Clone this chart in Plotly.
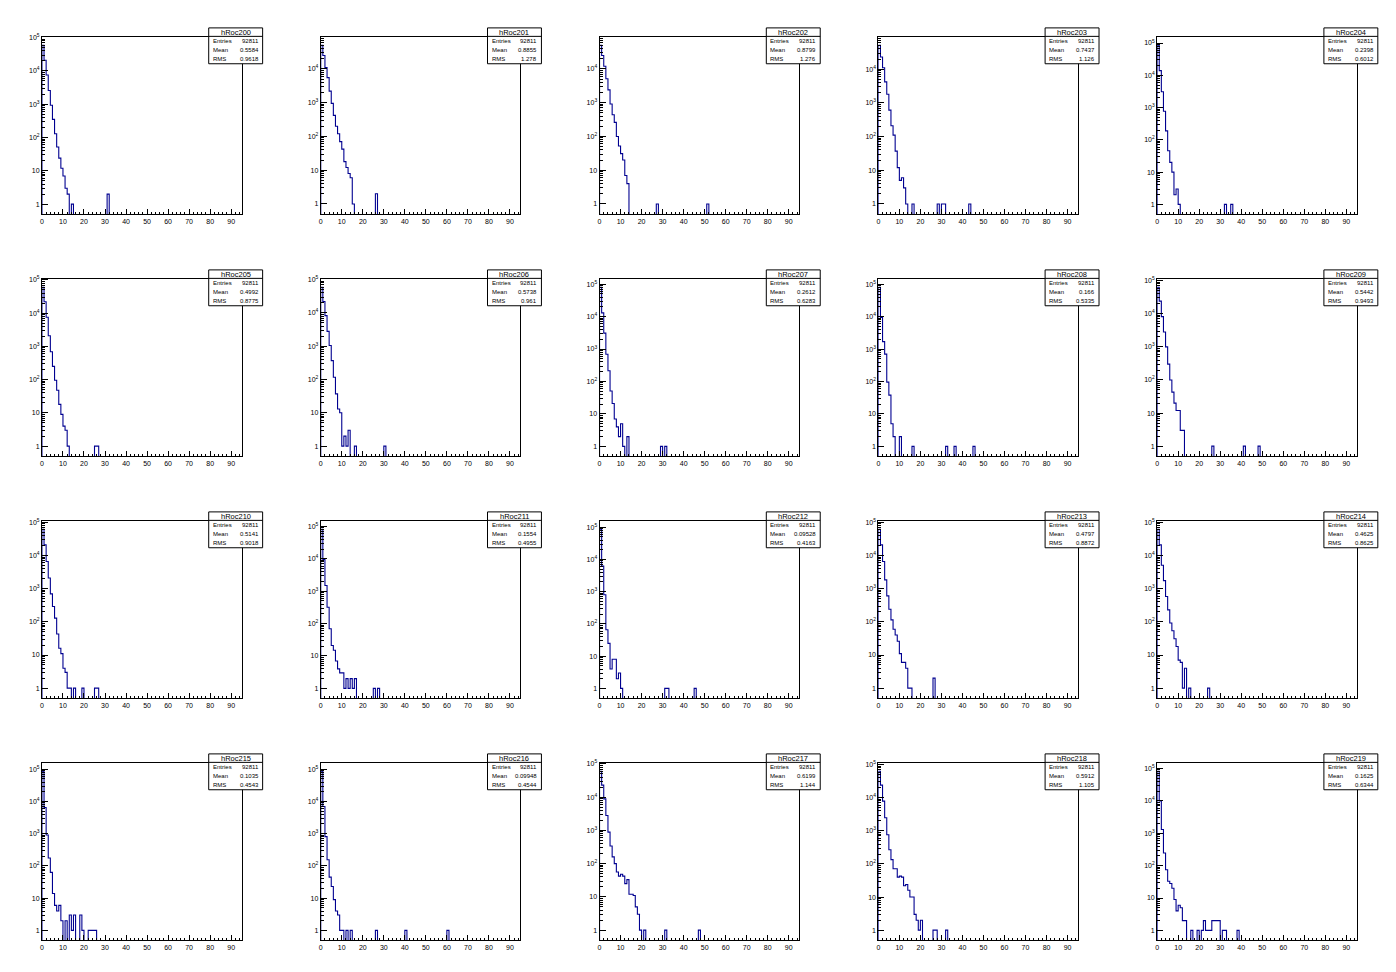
import math
import plotly.graph_objects as go

# ---------------- data ----------------
names = ["hRoc200", "hRoc201", "hRoc202", "hRoc203", "hRoc204",
         "hRoc205", "hRoc206", "hRoc207", "hRoc208", "hRoc209",
         "hRoc210", "hRoc211", "hRoc212", "hRoc213", "hRoc214",
         "hRoc215", "hRoc216", "hRoc217", "hRoc218", "hRoc219"]
entries = ["92811"] * 20
means = ["0.5584", "0.8855", "0.8799", "0.7437", "0.2398",
         "0.4992", "0.5738", "0.2612", "0.166", "0.5442",
         "0.5141", "0.1554", "0.09528", "0.4797", "0.4625",
         "0.1035", "0.09948", "0.6199", "0.5912", "0.1625"]
rms = ["0.9618", "1.278", "1.276", "1.126", "0.6012",
       "0.8775", "0.961", "0.6283", "0.5335", "0.9493",
       "0.9018", "0.4955", "0.4163", "0.8872", "0.8625",
       "0.4543", "0.4544", "1.144", "1.105", "0.6344"]

# contiguous bins from bin 0, then isolated outlier bins
roc200_core = [59000, 21000, 7600, 2600, 930, 350, 130, 52, 24, 12, 7, 3, 2]
roc200_tail_bins = [14, 31]
roc200_tail_vals = [1, 2]
roc201_core = [50000, 25000, 11000, 5500, 2200, 950, 420, 200, 120, 70, 42, 18, 12, 8, 6, 1]
roc201_tail_bins = [26]
roc201_tail_vals = [2]
roc202_core = [50000, 25000, 12000, 5100, 2400, 910, 440, 260, 100, 52, 31, 20, 7, 4]
roc202_tail_bins = [27, 51]
roc202_tail_vals = [1, 1]
roc203_core = [51000, 23000, 11000, 4200, 1800, 610, 210, 110, 37, 12, 5, 6, 3, 1]
roc203_tail_bins = [16, 28, 30, 31, 43]
roc203_tail_vals = [1, 1, 1, 1, 1]
roc204_core = [85000, 14000, 3100, 770, 190, 46, 20, 10, 2, 3, 1]
roc204_tail_bins = [32, 35]
roc204_tail_vals = [1, 1]
roc205_core = [60000, 22000, 7500, 2100, 690, 250, 96, 48, 18, 9, 4, 3, 1]
roc205_tail_bins = [25, 26]
roc205_tail_vals = [1, 1]
roc206_core = [59000, 22000, 8300, 2800, 1050, 370, 117, 37, 13, 10, 1, 2, 1, 3]
roc206_tail_bins = [16, 30]
roc206_tail_vals = [1, 1]
roc207_core = [80000, 13000, 3100, 690, 215, 51, 21, 7, 4, 2, 5, 1, 0, 2]
roc207_tail_bins = [29, 31]
roc207_tail_vals = [1, 1]
roc208_core = [80500, 9500, 1700, 700, 96, 38, 5, 2, 0, 0, 2]
roc208_tail_bins = [16, 32, 36, 45]
roc208_tail_vals = [1, 1, 1, 1]
roc209_core = [63000, 24000, 8200, 2800, 1000, 300, 100, 43, 20, 12, 12, 3, 3]
roc209_tail_bins = [26, 41, 48]
roc209_tail_vals = [1, 1, 1]
roc210_core = [62000, 21000, 6600, 2100, 700, 290, 130, 43, 16, 11, 4, 3, 1, 1]
roc210_tail_bins = [15, 19, 25, 26]
roc210_tail_vals = [1, 1, 1, 1]
roc211_core = [81500, 9500, 1500, 320, 69, 21, 15, 7, 4, 3, 3, 1, 2, 1, 2, 1, 2]
roc211_tail_bins = [25, 27]
roc211_tail_vals = [1, 1]
roc212_core = [86000, 6200, 800, 66, 25, 4, 8, 8, 2, 3, 1]
roc212_tail_bins = [31, 32, 45]
roc212_tail_vals = [1, 1, 1]
roc213_core = [62000, 21000, 6600, 1850, 610, 240, 115, 60, 40, 26, 11, 6, 6, 4, 1, 1]
roc213_tail_bins = [26]
roc213_tail_vals = [2]
roc214_core = [62000, 21000, 5100, 1750, 580, 230, 92, 54, 31, 18, 7, 6, 1, 4, 0, 1]
roc214_tail_bins = [24]
roc214_tail_vals = [1]
roc215_core = [86000, 6500, 910, 177, 63, 14, 6, 4, 6, 2, 0, 2, 0, 3, 1, 3, 0, 0, 3, 1, 0, 0, 1, 1, 1, 1]
roc215_tail_bins = []
roc215_tail_vals = []
roc216_core = [86000, 7000, 810, 155, 45, 23, 9, 4, 3, 1, 1, 0, 1, 0, 1]
roc216_tail_bins = [26, 40, 60]
roc216_tail_vals = [1, 1, 1]
roc217_core = [60000, 23000, 8900, 2800, 890, 340, 160, 100, 56, 42, 48, 42, 25, 33, 12, 12, 11, 5, 3, 1, 0, 1]
roc217_tail_bins = [31, 47]
roc217_tail_vals = [1, 1]
roc218_core = [63000, 24000, 7900, 2500, 760, 270, 135, 72, 72, 40, 43, 40, 22, 24, 16, 10, 10, 3, 2, 1, 2]
roc218_tail_bins = [26, 27, 32]
roc218_tail_vals = [1, 1, 1]
roc219_core = [82000, 10000, 1300, 245, 75, 33, 28, 20, 9, 4, 6, 5, 2, 2]
roc219_tail_bins = [16, 19, 21, 22, 23, 24, 25, 26, 27, 28, 29, 31, 32, 38]
roc219_tail_vals = [1, 1, 1, 2, 1, 1, 1, 2, 2, 2, 2, 1, 1, 1]

x_tick_vals = [0, 10, 20, 30, 40, 50, 60, 70, 80, 90]
y_tick_vals = [1, 10, 100, 1000, 10000, 100000]
y_tick_text = ["1", "10", "10<sup>2</sup>", "10<sup>3</sup>", "10<sup>4</sup>", "10<sup>5</sup>"]

cores = [roc200_core, roc201_core, roc202_core, roc203_core, roc204_core,
         roc205_core, roc206_core, roc207_core, roc208_core, roc209_core,
         roc210_core, roc211_core, roc212_core, roc213_core, roc214_core,
         roc215_core, roc216_core, roc217_core, roc218_core, roc219_core]
tail_bins = [roc200_tail_bins, roc201_tail_bins, roc202_tail_bins, roc203_tail_bins, roc204_tail_bins,
             roc205_tail_bins, roc206_tail_bins, roc207_tail_bins, roc208_tail_bins, roc209_tail_bins,
             roc210_tail_bins, roc211_tail_bins, roc212_tail_bins, roc213_tail_bins, roc214_tail_bins,
             roc215_tail_bins, roc216_tail_bins, roc217_tail_bins, roc218_tail_bins, roc219_tail_bins]
tail_vals = [roc200_tail_vals, roc201_tail_vals, roc202_tail_vals, roc203_tail_vals, roc204_tail_vals,
             roc205_tail_vals, roc206_tail_vals, roc207_tail_vals, roc208_tail_vals, roc209_tail_vals,
             roc210_tail_vals, roc211_tail_vals, roc212_tail_vals, roc213_tail_vals, roc214_tail_vals,
             roc215_tail_vals, roc216_tail_vals, roc217_tail_vals, roc218_tail_vals, roc219_tail_vals]

# ---------------- layout geometry ----------------
W, H = 1396, 972
PW, PH = W / 5.0, H / 4.0
FRAME_L, FRAME_R = 40, 240
FRAME_T, FRAME_B = 33, 211
X_MAX = 95
Y_MIN = 0.5
LINE_COLOR = "#000090"
FONT = "Liberation Sans, Arial, sans-serif"

minor_y = []
for d in range(0, 6):
    for m in range(2, 10):
        minor_y.append(m * 10 ** d)

fig = go.Figure()
layout = dict(width=W, height=H, margin=dict(l=0, r=0, t=0, b=0),
              paper_bgcolor="white", plot_bgcolor="white", showlegend=False)
shapes = []
annotations = []


def px(x):
    return x / W


def py(y):
    return 1 - y / H


for i in range(20):
    r, c = divmod(i, 5)
    ox, oy = c * PW, r * PH
    counts = list(cores[i])
    nb = len(counts)
    if tail_bins[i]:
        nb = max(nb, max(tail_bins[i]) + 1)
    counts += [0] * (nb - len(counts))
    for b, v in zip(tail_bins[i], tail_vals[i]):
        counts[b] = v
    tiny = 1e-3
    xs = [0] + list(range(nb)) + [nb]
    ys = [tiny] + [v if v > 0 else tiny for v in counts] + [tiny]

    sfx = "" if i == 0 else str(i + 1)
    fig.add_trace(go.Scatter(x=xs, y=ys, mode="lines",
                             line=dict(color=LINE_COLOR, width=1.1, shape="hv"),
                             xaxis="x" + sfx, yaxis="y" + sfx,
                             hoverinfo="skip", showlegend=False))

    ymax = max(counts)
    lmax = math.log10(ymax)
    lmin = math.log10(Y_MIN)
    top = lmax + 0.05 * (lmax - lmin)

    layout["xaxis" + sfx] = dict(
        domain=[px(ox + FRAME_L), px(ox + FRAME_R)], anchor="y" + sfx,
        range=[0, X_MAX], showline=True, mirror=True, linecolor="black", linewidth=1,
        ticks="inside", ticklen=5, tickwidth=1, tickcolor="black",
        tickmode="array", tickvals=x_tick_vals,
        tickfont=dict(family=FONT, size=7, color="black"),
        showgrid=False, zeroline=False, fixedrange=True,
        minor=dict(ticks="inside", ticklen=2.5, tickwidth=1, tickcolor="black",
                   dtick=2, tick0=0, showgrid=False))
    layout["yaxis" + sfx] = dict(
        domain=[py(oy + FRAME_B), py(oy + FRAME_T)], anchor="x" + sfx,
        type="log", range=[lmin, top], showline=True, mirror=True,
        linecolor="black", linewidth=1,
        ticks="inside", ticklen=6, tickwidth=1, tickcolor="black",
        tickmode="array", tickvals=y_tick_vals, ticktext=y_tick_text,
        tickfont=dict(family=FONT, size=7, color="black"),
        showgrid=False, zeroline=False, fixedrange=True,
        minor=dict(ticks="inside", ticklen=3, tickwidth=1, tickcolor="black",
                   tickmode="array", tickvals=minor_y, showgrid=False))

    # stats box
    bx0, bx1 = ox + 207, ox + 261
    by0, by1, bh = oy + 24, oy + 60, oy + 32.5
    shapes.append(dict(type="rect", xref="paper", yref="paper",
                       x0=px(bx0), x1=px(bx1), y0=py(by1), y1=py(by0),
                       line=dict(color="black", width=1), fillcolor="white", layer="above"))
    shapes.append(dict(type="line", xref="paper", yref="paper",
                       x0=px(bx0), x1=px(bx1), y0=py(bh), y1=py(bh),
                       line=dict(color="black", width=1), layer="above"))
    annotations.append(dict(xref="paper", yref="paper", x=px((bx0 + bx1) / 2), y=py(oy + 28.3),
                            text=names[i], showarrow=False, xanchor="center", yanchor="middle",
                            font=dict(family=FONT, size=7.5, color="black")))
    for lab, val, yy in (("Entries", entries[i], 37), ("Mean", means[i], 46), ("RMS", rms[i], 55)):
        annotations.append(dict(xref="paper", yref="paper", x=px(bx0 + 2), y=py(oy + yy),
                                text=lab, showarrow=False, xanchor="left", yanchor="middle",
                                font=dict(family=FONT, size=6, color="black")))
        annotations.append(dict(xref="paper", yref="paper", x=px(bx1 - 2), y=py(oy + yy),
                                text=val, showarrow=False, xanchor="right", yanchor="middle",
                                font=dict(family=FONT, size=6, color="black")))

layout["shapes"] = shapes
layout["annotations"] = annotations
fig.update_layout(**layout)
fig.write_html("out.html", config={"displayModeBar": False, "staticPlot": True},
               post_script="document.body.style.margin='0px';document.body.style.overflow='hidden';")
